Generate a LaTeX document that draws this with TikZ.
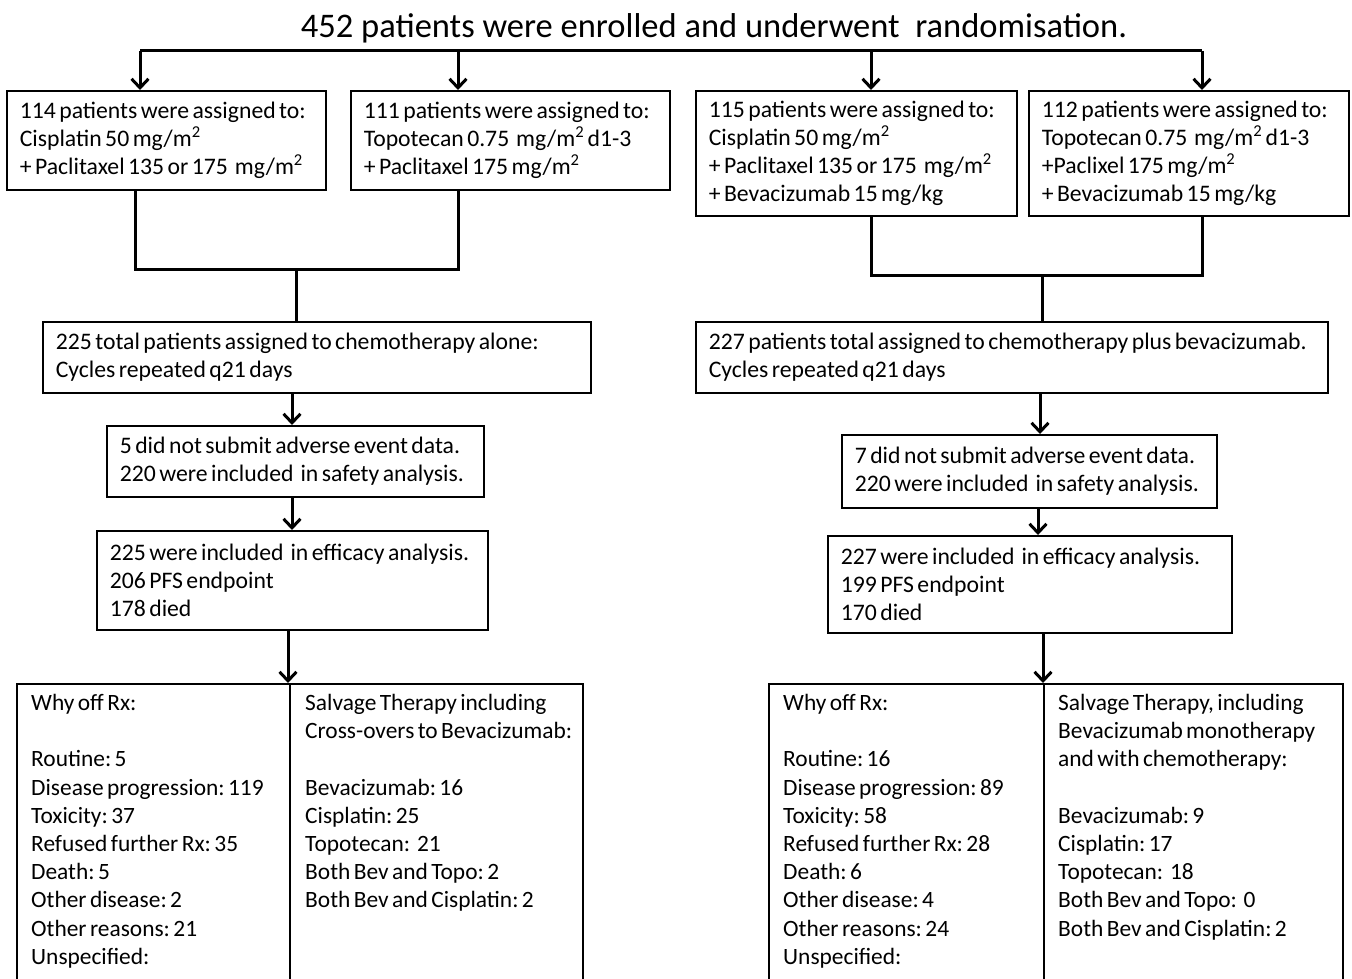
\documentclass[tikz,border=0pt]{standalone}
\usepackage{fontspec}
\setmainfont{Carlito}[WordSpace=0.65]
\newfontfamily\titlefont{Carlito}
\usetikzlibrary{arrows.meta}
\newcommand\natspace{\frenchspacing\spaceskip=0pt\xspaceskip=0pt\relax}
\begin{document}
\begin{tikzpicture}[x=1pt,y=-1pt,
 box/.style={draw, line width=1.6pt, anchor=north west, inner xsep=13pt, inner ysep=0pt, align=left, font=\fontsize{23.7}{28}\selectfont, execute at begin node=\natspace},
 half/.style={draw, line width=1.6pt, anchor=north west, inner sep=0pt, minimum height=330pt},
 txt/.style={anchor=north west, inner sep=0pt, align=left, font=\fontsize{23.4}{28.2}\selectfont, execute at begin node=\natspace},
 conn/.style={line width=3pt},
 arr/.style={line width=3pt, -{Straight Barb[length=9pt,width=17pt,line width=3pt]}}]
\useasboundingbox (0,0) rectangle (1352,979);
\clip (0,0) rectangle (1352,979);

\node[font=\titlefont\fontsize{34.5}{40}\selectfont, inner sep=0pt] (title) at (714,28) {452 patients were enrolled and underwent \ randomisation.};

\node[box, minimum width=319pt, text width=293pt, minimum height=99pt] (b1) at (6,90)
 {114 patients were assigned to:\\Cisplatin 50 mg/m\textsuperscript{2}\\+ Paclitaxel 135 or 175 \ mg/m\textsuperscript{2}};
\node[box, minimum width=319pt, text width=293pt, minimum height=99pt] (b2) at (350,90)
 {111 patients were assigned to:\\Topotecan 0.75 \ mg/m\textsuperscript{2} d1-3\\+ Paclitaxel 175 mg/m\textsuperscript{2}};
\node[box, minimum width=321pt, text width=295pt, minimum height=125pt] (b3) at (695,90)
 {115 patients were assigned to:\\Cisplatin 50 mg/m\textsuperscript{2}\\+ Paclitaxel 135 or 175 \ mg/m\textsuperscript{2}\\+ Bevacizumab 15 mg/kg};
\node[box, minimum width=320pt, text width=294pt, minimum height=125pt] (b4) at (1028,90)
 {112 patients were assigned to:\\Topotecan 0.75 \ mg/m\textsuperscript{2} d1-3\\+Paclixel 175 mg/m\textsuperscript{2}\\+ Bevacizumab 15 mg/kg};

\node[box, minimum width=548pt, text width=522pt, minimum height=71pt] (b5) at (42,321)
 {225 total patients assigned to chemotherapy alone:\\Cycles repeated q21 days};
\node[box, minimum width=377pt, text width=351pt, minimum height=71pt] (b6) at (106,425)
 {5 did not submit adverse event data.\\220 were included \ in safety analysis.};
\node[box, minimum width=391pt, text width=365pt, minimum height=99pt] (b7) at (96,530)
 {225 were included \ in efficacy analysis.\\206 PFS endpoint\\178 died};

\node[box, minimum width=632pt, text width=606pt, minimum height=71pt] (b9) at (695,321)
 {227 patients total assigned to chemotherapy plus bevacizumab.\\Cycles repeated q21 days};
\node[box, minimum width=375pt, text width=349pt, minimum height=73pt] (b10) at (841,434)
 {7 did not submit adverse event data.\\220 were included \ in safety analysis.};
\node[box, minimum width=404pt, text width=378pt, minimum height=97pt] (b11) at (827,535)
 {227 were included \ in efficacy analysis.\\199 PFS endpoint\\170 died};

% bottom boxes
\node[half, minimum width=273pt] (b8a) at (16,683) {};
\node[half, minimum width=293pt] (b8b) at (289,683) {};
\node[txt] (t8a) at (31,694) {Why off Rx:\\[28.2pt]Routine: 5\\Disease progression: 119\\Toxicity: 37\\Refused further Rx: 35\\Death: 5\\Other disease: 2\\Other reasons: 21\\Unspecified:};
\node[txt] (t8b) at (305,694) {Salvage Therapy including\\Cross-overs to Bevacizumab:\\[28.2pt]Bevacizumab: 16\\Cisplatin: 25\\Topotecan: \ 21\\Both Bev and Topo: 2\\Both Bev and Cisplatin: 2};

\node[half, minimum width=275pt] (b12a) at (768,683) {};
\node[half, minimum width=299pt] (b12b) at (1043,683) {};
\node[txt] (t12a) at (783,694) {Why off Rx:\\[28.2pt]Routine: 16\\Disease progression: 89\\Toxicity: 58\\Refused further Rx: 28\\Death: 6\\Other disease: 4\\Other reasons: 24\\Unspecified:};
\node[txt] (t12b) at (1058,694) {Salvage Therapy, including\\Bevacizumab monotherapy\\and with chemotherapy:\\[28.2pt]Bevacizumab: 9\\Cisplatin: 17\\Topotecan: \ 18\\Both Bev and Topo: \ 0\\Both Bev and Cisplatin: 2};

% top split
\coordinate (s1) at (140,51);
\coordinate (s2) at (458,51);
\coordinate (s3) at (871,51);
\coordinate (s4) at (1202,51);
\draw[conn] (s1) -- (s4);
\draw[arr] (s1) -- (s1 |- b1.north);
\draw[arr] (s2) -- (s2 |- b2.north);
\draw[arr] (s3) -- (s3 |- b3.north);
\draw[arr] (s4) -- (s4 |- b4.north);

% left merge
\coordinate (m1) at (135,269);
\coordinate (m2) at (458,269);
\coordinate (m3) at (296,269);
\draw[conn] (m1 |- b1.south) -- (m1) -- (m2) -- (m2 |- b2.south);
\draw[conn] (m3) -- (m3 |- b5.north);

% right merge
\coordinate (r1) at (871,275);
\coordinate (r2) at (1202,275);
\coordinate (r3) at (1042,275);
\draw[conn] (r1 |- b3.south) -- (r1) -- (r2) -- (r2 |- b4.south);
\draw[conn] (r3) -- (r3 |- b9.north);

% left chain
\coordinate (la) at (292,0);
\coordinate (lb) at (288,0);
\draw[arr] (la |- b5.south) -- (la |- b6.north);
\draw[arr] (la |- b6.south) -- (la |- b7.north);
\draw[arr] (lb |- b7.south) -- (lb |- b8a.north);

% right chain
\coordinate (ra) at (1040,0);
\coordinate (rb) at (1038,0);
\coordinate (rc) at (1043,0);
\draw[arr] (ra |- b9.south) -- (ra |- b10.north);
\draw[arr] (rb |- b10.south) -- (rb |- b11.north);
\draw[arr] (rc |- b11.south) -- (rc |- b12a.north);
\end{tikzpicture}
\end{document}
